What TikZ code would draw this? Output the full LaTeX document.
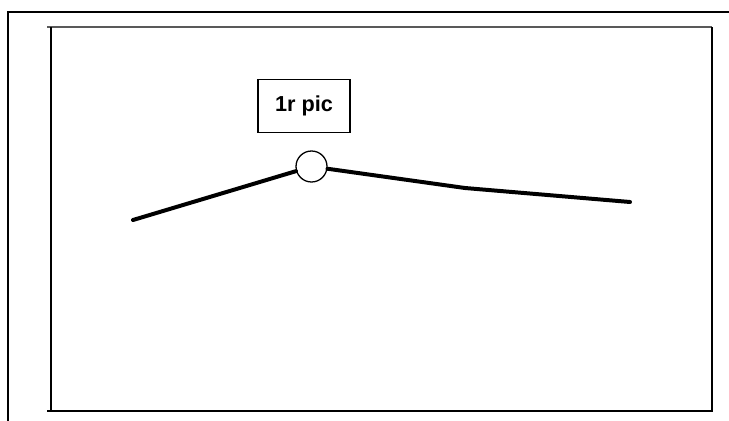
\documentclass[tikz,border=0pt]{standalone}
\usepackage{fontspec}
\setmainfont{Liberation Sans}
\usepackage{tikz}
\usetikzlibrary{positioning}

\begin{document}
\begin{tikzpicture}[x=0.03cm,y=-0.03cm]

\useasboundingbox (0,0) rectangle (729,421);

\tikzstyle{framel} = [black, line width=0.9pt]
\tikzstyle{picbox} = [fill=white, draw=black, line width=1.2pt, rectangle, minimum height=1.59cm, minimum width=2.76cm, font=\fontsize{18.5}{21}\selectfont\bfseries]
\tikzstyle{joint} = [fill=white, draw=black, line width=1.1pt, shape=circle, minimum width=0.93cm, inner sep=0pt]
\tikzstyle{curve} = [black, line width=3.4pt, line cap=round, line join=round]

% outer frame, only top and left
\draw [framel] (729,12) -- (8,12) -- (8,421);

% inner frame
\draw [framel, gray!70!black] (47,27) -- (712,27);
\draw [framel] (51,27) -- (51,411);
\draw [framel] (47,411) -- (712,411) -- (712,27);

\coordinate (p1) at (133,220);
\node [joint] (j1) at (311.5,166.5) {};
\coordinate (p2) at (465,188);
\coordinate (p3) at (630,202);
\draw [curve] (p1) -- (j1);
\draw [curve] (j1) -- (p2) -- (p3);

\node [picbox] (lbl) at (304,106) {1r pic};

\end{tikzpicture}
\end{document}
